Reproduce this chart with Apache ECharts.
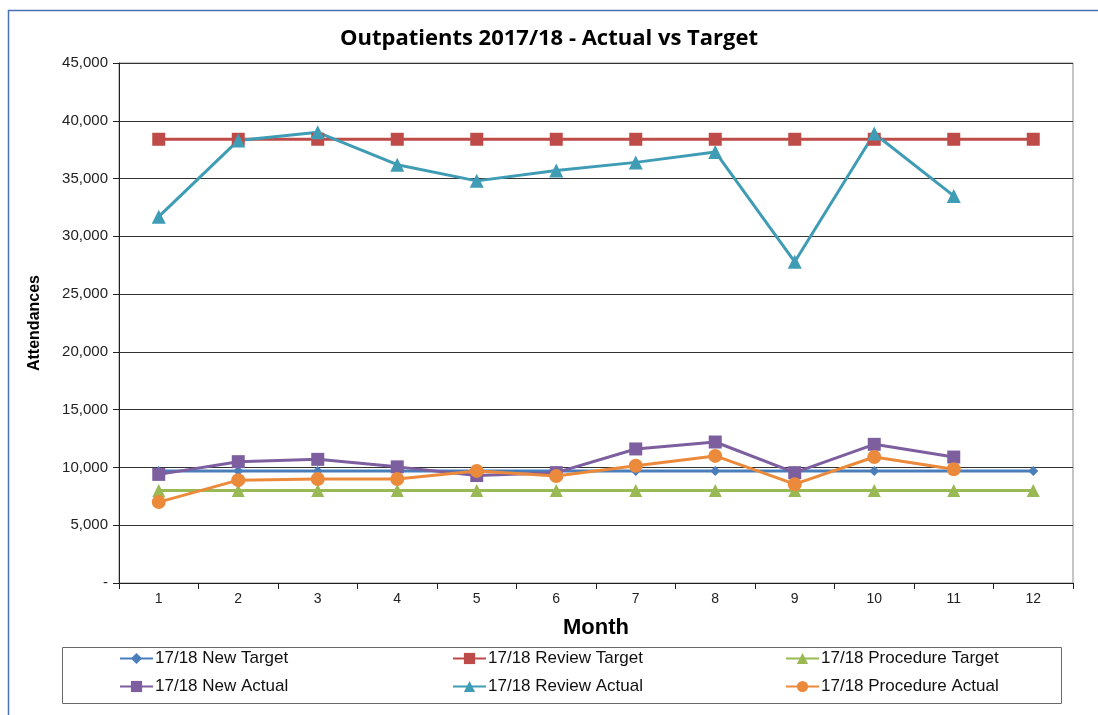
<!DOCTYPE html>
<html>
<head>
<meta charset="utf-8">
<script src="https://cdn.jsdelivr.net/npm/echarts@6/dist/echarts.min.js"></script>
<style>
  html, body { margin: 0; padding: 0; background: #fff; }
  #chart { width: 1098px; height: 715px; }
</style>
</head>
<body>
<div id="chart"></div>
<script>
// months 1..12
const months = ['1', '2', '3', '4', '5', '6', '7', '8', '9', '10', '11', '12']
const yTicks = [0, 5000, 10000, 15000, 20000, 25000, 30000, 35000, 40000, 45000]

// targets
const newTarget = [9700, 9700, 9700, 9700, 9700, 9700, 9700, 9700, 9700, 9700, 9700, 9700]
const reviewTarget = [38400, 38400, 38400, 38400, 38400, 38400, 38400, 38400, 38400, 38400, 38400, 38400]
const procedureTarget = [8000, 8000, 8000, 8000, 8000, 8000, 8000, 8000, 8000, 8000, 8000, 8000]

// actuals (no month 12 yet)
const newActual = [9400, 10500, 10700, 10050, 9300, 9550, 11600, 12200, 9550, 12000, 10900]
const reviewActual = [31700, 38300, 39000, 36200, 34800, 35700, 36400, 37300, 27800, 38900, 33500]
const procedureActual = [7000, 8900, 9000, 9000, 9700, 9250, 10150, 11000, 8550, 10900, 9850]

const chart = echarts.init(document.getElementById('chart'))

const labelFont = 'Liberation Sans, Arial, sans-serif'

function lineSeries(name, data, color, symbol, size) {
  return {
    name: name,
    type: 'line',
    data: data,
    symbol: symbol,
    symbolSize: size,
    showSymbol: true,
    itemStyle: { color: color },
    lineStyle: { color: color, width: 3 },
    emphasis: { disabled: true },
    animation: false
  }
}

const series = [
  lineSeries('17/18 New Target', newTarget, '#4a7ebb', 'diamond', 10),
  lineSeries('17/18 Review Target', reviewTarget, '#be4b48', 'rect', 13),
  lineSeries('17/18 Procedure Target', procedureTarget, '#98b954', 'triangle', 13),
  lineSeries('17/18 New Actual', newActual, '#7d5fa0', 'rect', 13),
  lineSeries('17/18 Review Actual', reviewActual, '#3f9cb5', 'triangle', 14),
  lineSeries('17/18 Procedure Actual', procedureActual, '#ec8a3c', 'circle', 14)
]

// one legend per entry so the three columns line up
const legendSpots = [
  [119, 650], [452, 650], [785, 650],
  [119, 678], [452, 678], [785, 678]
]
const legends = series.map((s, i) => ({
  data: [s.name],
  left: legendSpots[i][0],
  top: legendSpots[i][1],
  itemWidth: 33,
  itemHeight: 14,
  itemGap: 2,
  padding: 0,
  selectedMode: false,
  textStyle: { fontFamily: labelFont, fontSize: 17, color: '#111', padding: [0, 0, 0, -3] }
}))

const option = {
  backgroundColor: '#fff',
  animation: false,
  title: {
    text: 'Outpatients 2017/18 - Actual vs Target',
    left: 'center',
    top: 28,
    padding: 0,
    textStyle: { fontFamily: 'Open Sans, sans-serif', fontWeight: 'bold', fontSize: 22, color: '#000' }
  },
  legend: legends,
  grid: {
    left: 119,
    right: 25,
    top: 63,
    bottom: 132,
    show: true,
    borderColor: '#8c8c8c',
    borderWidth: 1
  },
  xAxis: {
    type: 'category',
    data: months,
    boundaryGap: true,
    name: 'Month',
    nameLocation: 'middle',
    nameGap: 34,
    nameTextStyle: { fontFamily: labelFont, fontWeight: 'bold', fontSize: 22, color: '#000' },
    axisLine: { lineStyle: { color: '#222', width: 1 } },
    axisTick: { show: true, alignWithLabel: false, length: 6, lineStyle: { color: '#222' } },
    axisLabel: { fontFamily: labelFont, fontSize: 14, color: '#222', margin: 9 },
    splitLine: { show: false }
  },
  yAxis: {
    type: 'value',
    min: yTicks[0],
    max: yTicks[yTicks.length - 1],
    interval: 5000,
    name: 'Attendances',
    nameLocation: 'middle',
    nameGap: 76,
    nameRotate: 90,
    nameTextStyle: { fontFamily: labelFont, fontWeight: 'bold', fontSize: 16, color: '#000' },
    axisLine: { show: true, lineStyle: { color: '#222', width: 1 } },
    axisTick: { show: true, length: 6, lineStyle: { color: '#222' } },
    axisLabel: {
      fontFamily: labelFont,
      fontSize: 15,
      color: '#222',
      margin: 11,
      formatter: v => v === 0 ? '-' : v.toLocaleString('en-US')
    },
    splitLine: { show: true, lineStyle: { color: '#333', width: 1 } }
  },
  graphic: [
    // outer chart frame, only left and top edges are in view
    {
      type: 'rect',
      shape: { x: 8.5, y: 10.5, width: 1200, height: 800 },
      style: { fill: 'none', stroke: '#4a72b0', lineWidth: 1.5 },
      silent: true
    },
    // legend frame
    {
      type: 'rect',
      shape: { x: 62.5, y: 647.5, width: 999, height: 56 },
      style: { fill: 'none', stroke: '#6a6a6a', lineWidth: 1 },
      silent: true
    }
  ],
  series: series
}

chart.setOption(option)
</script>
</body>
</html>
